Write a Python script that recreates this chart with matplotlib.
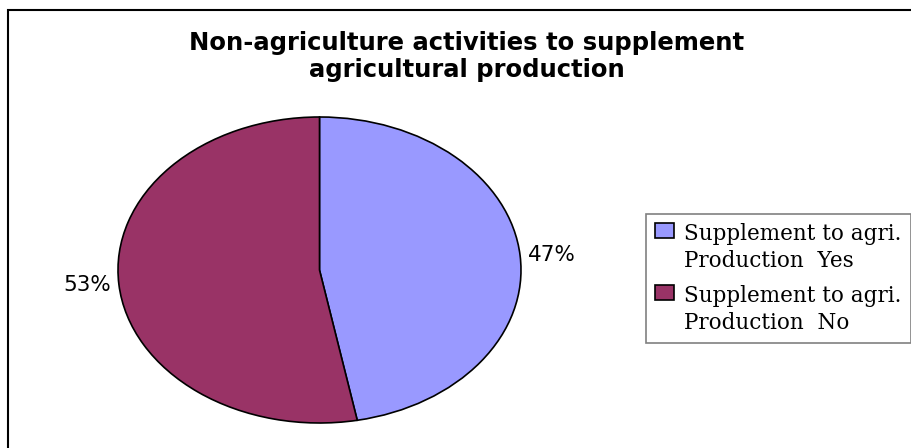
import matplotlib
matplotlib.use("Agg")
import matplotlib.pyplot as plt
from matplotlib.patches import Rectangle

# Data
categories = ["Supplement to agri.\nProduction  Yes", "Supplement to agri.\nProduction  No"]
values = [47, 53]
pct_labels = [f"{v}%" for v in values]
colors = ["#9999FF", "#993366"]
title = "Non-agriculture activities to supplement\nagricultural production"

W, H = 912, 448
fig = plt.figure(figsize=(W / 100, H / 100), dpi=100)
fig.patch.set_facecolor("white")

# outer chart border (left and top visible)
fig.patches.append(Rectangle((8 / W, -0.1), 1.2, (H - 10) / H + 0.1,
                             transform=fig.transFigure, fill=False,
                             edgecolor="black", linewidth=1.5, zorder=0))

# pie axes: ellipse box 118..521 x, 117..423 y (pixels from top)
ax = fig.add_axes([118 / W, (H - 423) / H, 403 / W, 306 / H])
wedges, texts = ax.pie(values, labels=pct_labels, colors=colors,
                       startangle=90, counterclock=False,
                       labeldistance=1.04,
                       wedgeprops=dict(edgecolor="black", linewidth=1.2),
                       textprops=dict(fontsize=15.5, family="DejaVu Sans",
                                      color="black"))
ax.set_aspect("auto")
ax.set_xlim(-1.0, 1.0)
ax.set_ylim(-1.0, 1.0)
ax.axis("off")

fig.text(467 / W, (H - 31) / H, title, ha="center", va="top",
         fontsize=17.5, fontweight="bold", family="DejaVu Sans",
         linespacing=1.18)

leg = fig.legend(wedges, categories, loc="upper left",
                 bbox_to_anchor=(646 / W, (H - 214) / H),
                 borderaxespad=0,
                 prop=dict(family="DejaVu Serif", size=15.5),
                 handlelength=0.88, handleheight=0.7, handletextpad=0.47,
                 borderpad=0.42, labelspacing=0.58, frameon=True,
                 fancybox=False, edgecolor="#808080", framealpha=1)
leg.get_frame().set_linewidth(1.2)
for t in leg.get_texts():
    t.set_linespacing(1.3)
# align swatches with the first text line
for col in leg._legend_handle_box.get_children():
    for item in col.get_children():
        item.align = "top"

fig.savefig("out.png", dpi=100)
